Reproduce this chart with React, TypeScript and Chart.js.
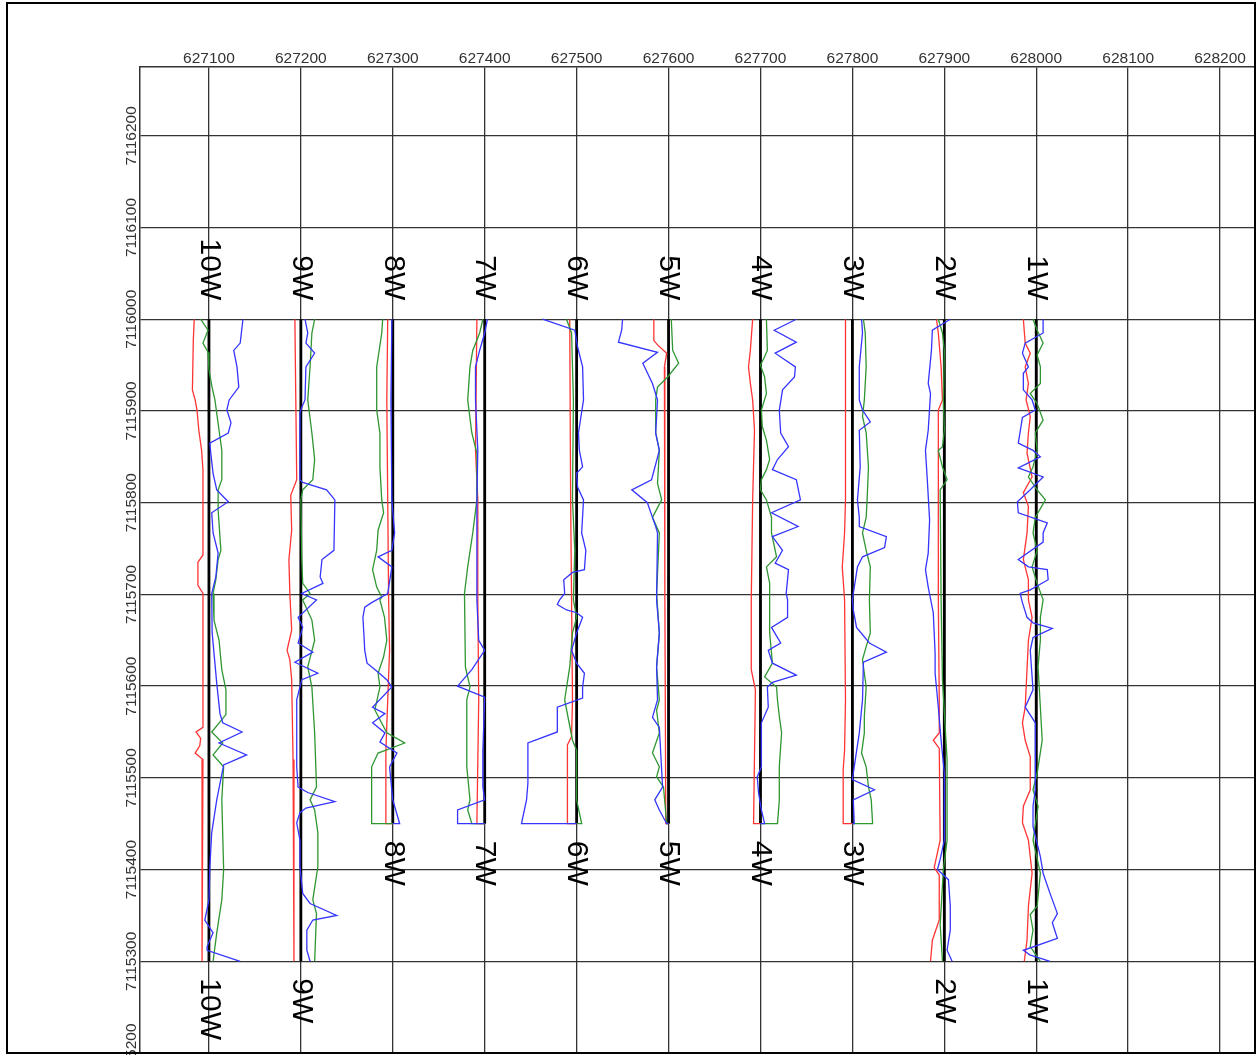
import { useEffect, useRef } from 'react';
import { Chart, registerables } from 'chart.js';

Chart.register(...registerables);

const FONT = '"Liberation Sans", Arial, sans-serif';

const X_TICKS = [627100, 627200, 627300, 627400, 627500, 627600, 627700, 627800, 627900, 628000, 628100, 628200];
const Y_TICKS = [7115200, 7115300, 7115400, 7115500, 7115600, 7115700, 7115800, 7115900, 7116000, 7116100, 7116200];
const X_MIN = 627025;
const X_MAX = 628238;
const Y_MIN = 7115200;
const Y_MAX = 7116275;

const LINE_NAMES = ['10W', '9W', '8W', '7W', '6W', '5W', '4W', '3W', '2W', '1W'];
const LINE_EASTINGS = [627100, 627200, 627300, 627400, 627500, 627600, 627700, 627800, 627900, 628000];
const LINE_START_NORTHING = 7116000;
const LINE_LENGTHS = [700, 700, 550, 550, 550, 550, 550, 550, 700, 700];

// Profiles: [metres south of line start, easting offset from line (m)]
const RED_10W = [[0,-16],[23,-17],[77,-18],[88,-15],[99,-13],[121,-11],[143,-8],[164,-6.5],[257,-6.5],[265,-12],[290,-12],[299,-6.5],[445,-6.5],[450,-14],[457,-9],[465,-10],[473,-15],[480,-6.5],[700,-7.5]];
const GREEN_10W = [[0,-9],[12,-1],[26,-6.5],[36,-1],[55,0],[72,3],[88,6.5],[121,11],[143,14],[175,14],[186,10],[208,10],[252,13],[262,10],[284,7.5],[299,4.5],[328,5.5],[350,11],[382,14],[404,18.5],[431,18.5],[450,3],[462,15],[475,4.5],[488,16],[524,14],[600,16],[633,14],[669,8.5],[700,4.5]];
const BLUE_10W = [[0,37],[26,34],[34,27],[52,30.5],[74,32.5],[88,22],[99,19.5],[113,24],[124,21],[135,1],[146,2],[168,4.5],[186,8.5],[199,21],[211,3],[233,4.5],[255,10],[281,7.5],[299,3],[342,3.5],[397,8.5],[430,12],[440,15],[450,36],[462,11],[475,41],[486,16],[524,8.5],[560,3],[597,1],[633,0],[655,-4.5],[669,4.5],[684,-2],[688,-2],[700,34]];

const RED_9W = [[0,-6.5],[88,-5.5],[175,-4.5],[192,-11],[230,-10],[262,-13],[299,-12],[339,-10],[361,-15],[371,-12],[393,-10],[480,-8.5],[700,-7.5]];
const GREEN_9W = [[0,15],[15,12],[52,10],[88,7.5],[124,12],[153,15],[175,13],[186,2],[197,0],[262,1],[288,2],[299,10],[306,2],[328,12],[350,15],[379,7.5],[401,12],[451,15],[510,17],[524,10],[535,15],[560,18.5],[597,18.5],[633,13],[648,17],[700,15]];
const BLUE_9W = [[0,4.5],[15,7.5],[26,5.5],[37,15],[52,5.5],[88,4.5],[96,1],[102,-1],[175,-1],[178,2],[186,28],[197,37],[252,36],[262,23],[281,21],[288,24],[299,1],[306,17],[325,-3],[336,2],[353,-3],[363,13],[374,-6.5],[386,18.5],[393,1],[415,-4.5],[488,-4.5],[510,-3],[516,7.5],[526,37],[533,5.5],[538,-1],[549,-4.5],[568,-1],[597,-1],[626,2],[637,10],[650,39],[655,13],[666,6.5],[688,6.5],[700,10]];

const RED_8W = [[0,-5.5],[88,-6.5],[197,-5.5],[306,-4.5],[361,-3.5],[415,-5.5],[470,-7.5],[550,-7.5],[550,0]];
const GREEN_8W = [[0,-11],[15,-12],[52,-17.5],[99,-17.5],[124,-14],[161,-14],[197,-12],[211,-10],[230,-16],[252,-17.5],[273,-22],[292,-17.5],[303,-12],[306,-14],[325,-9],[350,-6.5],[368,-10],[386,-16],[401,-14],[426,-19.5],[451,-6.5],[462,13],[473,-16],[488,-23],[550,-23],[550,0]];
const BLUE_8W = [[0,-1],[88,-2],[197,-1],[233,2],[252,-1],[259,-16],[270,-1],[299,-5.5],[309,-23],[314,-30.5],[325,-32.5],[342,-31.5],[361,-30.5],[375,-28],[382,-19.5],[393,-6.5],[401,-1],[423,-22],[430,-8.5],[440,-22],[451,-8.5],[461,-14],[473,4.5],[488,-3.5],[524,0],[550,7.5],[550,0]];

const RED_7W = [[0,-8.5],[143,-10],[197,-7.5],[306,-7.5],[415,-6.5],[550,-8.5],[550,0]];
const GREEN_7W = [[0,-2],[15,-5.5],[34,-13],[52,-16],[88,-18.5],[124,-14],[146,-8.5],[197,-8.5],[233,-13],[270,-18.5],[299,-22],[379,-21],[401,-16],[415,-19.5],[488,-19.5],[524,-16],[535,-18.5],[550,-14],[550,0]];
const BLUE_7W = [[0,3],[15,0],[34,-5.5],[52,-10],[88,-10],[143,-7.5],[197,-8.5],[306,-8.5],[328,-7.5],[350,-6.5],[361,0],[382,-14],[400,-29.5],[412,0],[470,-2],[510,-2],[524,0],[535,-29.5],[550,-29.5],[550,0]];

const RED_6W = [[0,-7.5],[197,-6.5],[306,-5.5],[415,-4.5],[455,-5.5],[464,-10],[550,-10],[550,0]];
const GREEN_6W = [[0,-11],[15,-5.5],[88,-3.5],[197,-4.5],[252,-2],[306,-3.5],[325,0],[342,-4.5],[379,-7.5],[415,-13],[459,-4.5],[470,0],[524,0],[550,5.5],[550,0]];
const BLUE_6W = [[0,-37],[12,-2],[30,1],[52,6.5],[88,7.5],[124,2],[143,3],[161,6.5],[168,0],[183,1],[197,7.5],[233,5.5],[252,10],[273,8.5],[276,-4.5],[284,-14],[299,-13],[306,-18.5],[311,-21],[317,-11],[320,0],[325,6.5],[342,0],[361,-5.5],[375,0],[386,8.5],[401,6.5],[413,6.5],[423,-21],[450,-21],[462,-53],[506,-53],[524,-54.5],[550,-60],[550,0]];

const RED_5W = [[0,-16],[23,-16],[28,-12],[37,-2],[52,-4.5],[300,-4],[550,-3],[550,0]];
const GREEN_5W = [[0,3],[34,4.5],[48,11],[63,-1],[74,-12],[88,-14],[124,-14],[143,-10],[179,-12],[197,-7.5],[216,-17.5],[233,-10],[299,-13],[342,-10],[379,-13],[415,-10],[426,-13],[451,-10],[473,-17.5],[488,-10],[499,-13],[510,-5.5],[550,-2],[550,0]];
const BLUE_5W = [[0,-50],[12,-51],[25,-54.5],[36,-12],[48,-28],[70,-17.5],[88,-12],[124,-14],[143,-10],[175,-18.5],[186,-40],[200,-23],[216,-17.5],[226,-14],[233,-12],[306,-13],[342,-10],[379,-13],[415,-12],[434,-17.5],[445,-10],[510,-6.5],[524,-15],[535,-10],[550,-2],[550,0]];

const RED_4W = [[0,-8.5],[34,-11],[52,-13],[70,-11],[88,-8.5],[121,-6.5],[197,-8.5],[306,-10],[382,-10],[404,-5.5],[550,-7.5],[550,0]];
const GREEN_4W = [[0,6.5],[34,7.5],[41,4.5],[50,0],[63,4.5],[81,6.5],[99,1],[117,2],[132,6.5],[153,10],[164,6.5],[175,1],[186,0],[197,6.5],[216,12],[233,12],[259,17.5],[270,6.5],[288,10],[306,10],[342,10],[375,13],[390,4.5],[401,17.5],[415,18.5],[433,20.5],[451,23],[488,20.5],[524,20.5],[550,18.5],[550,0]];
const BLUE_4W = [[0,39],[12,15],[25,39],[37,16],[52,38],[63,37],[77,24],[99,20.5],[124,22],[139,30.5],[153,18.5],[164,13],[175,39],[197,43.5],[211,12],[226,41],[237,13],[252,24],[266,16],[273,30.5],[299,28],[306,29.5],[325,29.5],[336,12],[353,22],[361,8.5],[375,13],[388,39],[396,13],[401,7.5],[423,8.5],[440,1],[488,1],[499,-3.5],[517,-2],[535,1],[550,4.5],[550,0]];

const RED_3W = [[0,-7.5],[197,-7.5],[233,-8.5],[270,-11],[306,-8.5],[415,-7.5],[470,-8.5],[491,-10],[550,-10],[550,0]];
const GREEN_3W = [[0,12],[15,14],[52,15],[88,13],[106,11],[124,15],[161,17.5],[197,16],[216,15],[233,11],[252,15],[270,19.5],[306,18.5],[342,19.5],[357,15],[371,11],[401,15],[433,13],[451,13],[473,10],[488,15],[510,17.5],[524,20.5],[550,22],[550,0]];
const BLUE_3W = [[0,10],[15,11],[52,7.5],[88,7.5],[99,11],[112,19.5],[121,7.5],[161,8.5],[197,5.5],[216,7.5],[226,7.5],[237,37],[249,35],[259,11],[270,5.5],[299,1],[306,0],[317,1],[336,4.5],[353,18.5],[363,37],[374,12],[415,11],[451,7.5],[488,2],[502,0],[513,24],[524,1],[550,2],[550,0]];

const RED_2W = [[0,-8.5],[15,-6.5],[52,-3.5],[88,-2],[99,-6.5],[197,-6.5],[306,-6.5],[415,-5.5],[451,-5.5],[459,-12],[468,-5.5],[568,-4.5],[598,-11],[606,-5.5],[655,-5.5],[677,-13],[700,-15]];
const GREEN_2W = [[0,-6.5],[15,-2],[34,0],[88,-1],[121,0],[139,-2],[143,-6.5],[161,-2],[175,3],[186,-4.5],[306,-3.5],[393,-2],[480,3],[568,3],[600,-1],[660,-4.5],[700,-2]];
const BLUE_2W = [[0,6.5],[12,-13],[34,-14],[70,-17.5],[81,-15],[121,-17.5],[143,-20.5],[175,-18.5],[219,-16],[255,-17.5],[273,-20.5],[292,-17.5],[320,-12],[364,-10],[386,-10],[423,-6.5],[459,-3.5],[495,0],[568,0],[589,-4.5],[600,-7.5],[611,4.5],[640,6.5],[666,6.5],[688,3],[700,8.5]];

const RED_1W = [[0,-14],[26,-12],[37,-6.5],[52,-12],[70,-8.5],[88,-11],[106,-6.5],[124,-8.5],[146,-10],[172,-4.5],[189,-14],[204,-8.5],[233,-10],[262,-14],[284,-8.5],[306,-8.5],[325,-4.5],[350,-8.5],[423,-12],[440,-15],[459,-12],[477,-6.5],[513,-6.5],[531,-14],[549,-15],[568,-8.5],[604,-4.5],[640,-8.5],[677,-10],[700,-13]];
const GREEN_1W = [[0,-3.5],[12,1],[26,7.5],[39,1],[52,4.5],[70,4.5],[81,-6.5],[92,1],[110,7.5],[124,-1],[143,1],[161,-3.5],[172,-8.5],[186,1],[197,10],[216,-1],[233,-3.5],[252,1],[270,-4.5],[288,1],[306,7.5],[325,4.5],[350,4.5],[379,2],[423,4.5],[459,6.5],[495,1],[513,-3.5],[531,2],[568,-3.5],[604,4.5],[640,1],[649,-6.5],[666,-3.5],[684,-6.5],[700,4.5]];
const BLUE_1W = [[0,7.5],[15,7.5],[26,-12],[37,-15],[52,-8.5],[59,-14],[77,-14],[88,-4.5],[99,-1],[107,-15],[135,-19.5],[143,-3.5],[150,4.5],[162,-19.5],[172,7.5],[186,-6.5],[199,-20.5],[211,-19.5],[222,12],[233,7.5],[243,7.5],[262,-19.5],[270,-8.5],[273,12],[284,13],[295,-6.5],[299,-17.5],[309,-15],[325,-10],[331,-3.5],[337,17.5],[347,-3.5],[361,-6.5],[404,-3.5],[423,-12],[440,-1],[513,-1],[531,-3.5],[553,-3.5],[586,4.5],[604,7.5],[626,15],[648,23],[658,17.5],[675,23],[688,-14],[693,-7],[700,15]];

const RED_PROFILES = [RED_10W, RED_9W, RED_8W, RED_7W, RED_6W, RED_5W, RED_4W, RED_3W, RED_2W, RED_1W];
const GREEN_PROFILES = [GREEN_10W, GREEN_9W, GREEN_8W, GREEN_7W, GREEN_6W, GREEN_5W, GREEN_4W, GREEN_3W, GREEN_2W, GREEN_1W];
const BLUE_PROFILES = [BLUE_10W, BLUE_9W, BLUE_8W, BLUE_7W, BLUE_6W, BLUE_5W, BLUE_4W, BLUE_3W, BLUE_2W, BLUE_1W];

const RED = '#ff3434';
const GREEN = '#2f9632';
const BLUE = '#3535ff';
const GRID = '#333333';

function toPoints(profile: number[][], i: number) {
  return profile.map(([s, off]) => ({ x: LINE_EASTINGS[i] + off, y: LINE_START_NORTHING - s }));
}

const overlayPlugin = {
  id: 'overlay',
  afterDraw(chart: any) {
    const { ctx } = chart;
    const xs = chart.scales.x;
    const ys = chart.scales.y;
    ctx.save();
    // y tick labels, rotated
    ctx.fillStyle = '#333';
    ctx.font = `15.5px ${FONT}`;
    ctx.textAlign = 'center';
    ctx.textBaseline = 'alphabetic';
    ys.ticks.forEach((t: any) => {
      const py = ys.getPixelForValue(t.value);
      ctx.save();
      ctx.translate(ys.right - 4, py);
      ctx.rotate(-Math.PI / 2);
      ctx.fillText(String(t.value), 0, 0);
      ctx.restore();
    });
    // survey line labels
    ctx.fillStyle = '#000';
    ctx.font = `30px ${FONT}`;
    ctx.textBaseline = 'middle';
    LINE_NAMES.forEach((name, i) => {
      const px = xs.getPixelForValue(LINE_EASTINGS[i]);
      const top = ys.getPixelForValue(LINE_START_NORTHING);
      const bot = ys.getPixelForValue(LINE_START_NORTHING - LINE_LENGTHS[i]);
      ctx.save();
      ctx.translate(px, top - 19);
      ctx.rotate(Math.PI / 2);
      ctx.textAlign = 'right';
      ctx.fillText(name, 0, 0);
      ctx.restore();
      ctx.save();
      ctx.translate(px, bot + 17);
      ctx.rotate(Math.PI / 2);
      ctx.textAlign = 'left';
      ctx.fillText(name, 0, 0);
      ctx.restore();
    });
    // outer frame
    ctx.strokeStyle = '#000';
    ctx.lineWidth = 2;
    ctx.strokeRect(7, 3, 1248, 1050);
    ctx.restore();
  },
};

export default function App() {
  const ref = useRef<HTMLCanvasElement>(null);

  useEffect(() => {
    if (!ref.current) return;
    const datasets: any[] = [];
    LINE_EASTINGS.forEach((e, i) => {
      datasets.push({
        data: [{ x: e, y: LINE_START_NORTHING }, { x: e, y: LINE_START_NORTHING - LINE_LENGTHS[i] }],
        borderColor: '#000',
        borderWidth: 2.8,
        showLine: true,
        pointRadius: 0,
        order: 10,
      });
    });
    const addProfiles = (profiles: number[][][], color: string, order: number) => {
      profiles.forEach((p, i) => {
        datasets.push({
          data: toPoints(p, i),
          borderColor: color,
          borderWidth: 1.3,
          showLine: true,
          pointRadius: 0,
          tension: 0,
          order,
        });
      });
    };
    addProfiles(RED_PROFILES, RED, 3);
    addProfiles(GREEN_PROFILES, GREEN, 2);
    addProfiles(BLUE_PROFILES, BLUE, 1);

    const chart = new Chart(ref.current, {
      type: 'scatter',
      data: { datasets },
      options: {
        animation: false,
        responsive: false,
        devicePixelRatio: 1,
        layout: { padding: { left: 0, top: 0, right: 2, bottom: 2 } },
        plugins: { legend: { display: false }, tooltip: { enabled: false } },
        scales: {
          x: {
            type: 'linear',
            position: 'top',
            min: X_MIN,
            max: X_MAX,
            afterBuildTicks: (scale: any) => {
              scale.ticks = X_TICKS.map((v) => ({ value: v }));
            },
            afterFit: (scale: any) => {
              scale.height = 67;
            },
            grid: { color: GRID, lineWidth: 1.3, drawTicks: false },
            border: { display: true, color: GRID, width: 1.5 },
            ticks: {
              font: { size: 15.5, family: FONT },
              color: '#333',
              padding: -1,
              maxRotation: 0,
              autoSkip: false,
              callback: (v: any) => String(v),
            },
          },
          y: {
            type: 'linear',
            position: 'left',
            min: Y_MIN,
            max: Y_MAX,
            afterBuildTicks: (scale: any) => {
              scale.ticks = Y_TICKS.map((v) => ({ value: v }));
            },
            afterFit: (scale: any) => {
              scale.width = 140;
            },
            grid: { color: GRID, lineWidth: 1.3, drawTicks: false },
            border: { display: true, color: GRID, width: 1.5 },
            ticks: { display: false },
          },
        },
      },
      plugins: [overlayPlugin],
    });
    return () => chart.destroy();
  }, []);

  return (
    <div style={{ position: 'absolute', left: 0, top: 0, width: 1257, height: 1055, background: '#fff' }}>
      <canvas ref={ref} width={1257} height={1055} style={{ display: 'block', width: 1257, height: 1055 }} />
    </div>
  );
}
